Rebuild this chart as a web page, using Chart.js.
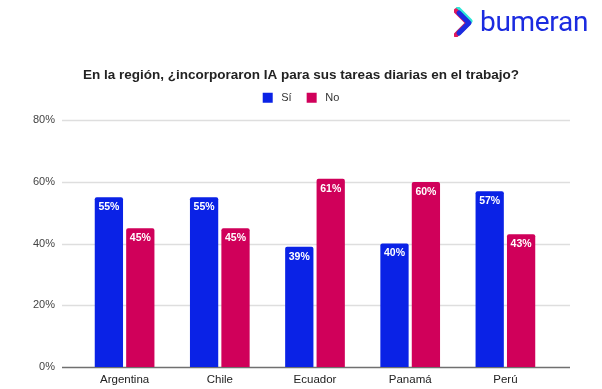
<!DOCTYPE html>
<html>
<head>
<meta charset="utf-8">
<script src="https://cdn.jsdelivr.net/npm/chart.js@4"></script>
<style>
  html, body { margin: 0; padding: 0; background: #fff; }
  #wrap { position: relative; width: 602px; height: 389px; }
  #logo { position: absolute; left: 454px; top: 5px; height: 34px; display: flex; align-items: center; }
  #logo span { font-family: Roboto, "Open Sans", sans-serif; font-size: 28px; color: #1b2be0; letter-spacing: -0.3px; margin-left: 6px; line-height: 1; }
</style>
</head>
<body>
<div id="wrap">
  <canvas id="chart" width="602" height="389"></canvas>
  <div id="logo">
    <svg width="20" height="30" viewBox="0 0 20 30">
      <polyline points="3,3 15,15 3,27" fill="none" stroke="#2ee6d6" stroke-width="5" stroke-linejoin="round" stroke-linecap="round" transform="translate(1,-1)"/>
      <polyline points="3,3 15,15 3,27" fill="none" stroke="#e0195f" stroke-width="5" stroke-linejoin="round" stroke-linecap="round" transform="translate(-1,1)"/>
      <polyline points="5,6 15,16 5,26" fill="none" stroke="#1b2be0" stroke-width="5" stroke-linejoin="round" stroke-linecap="round"/>
    </svg>
    <span>bumeran</span>
  </div>
</div>
<script>
  // datos
  const paises = ["Argentina", "Chile", "Ecuador", "Panamá", "Perú"];
  const si = [55, 55, 39, 40, 57];
  const no = [45, 45, 61, 60, 43];
  const yTicks = [0, 20, 40, 60, 80];

  const AZUL = "#0a22e6";
  const ROSA = "#d0005a";
  const FUENTE = "'Liberation Sans', Arial, sans-serif";

  // grilla horizontal que sobresale del area de barras
  const gridPlugin = {
    id: "gridExt",
    beforeDatasetsDraw(chart) {
      const { ctx, scales } = chart;
      const y = scales.y;
      ctx.save();
      yTicks.forEach((v) => {
        const py = Math.round(y.getPixelForValue(v)) + 0.5;
        ctx.beginPath();
        ctx.moveTo(62, py);
        ctx.lineTo(570, py);
        ctx.lineWidth = 1.5;
        ctx.strokeStyle = v === 0 ? "#707070" : "#dedede";
        ctx.stroke();
      });
      ctx.restore();
    },
  };

  // espacio extra bajo la leyenda
  const legendGap = {
    id: "legendGap",
    beforeInit(chart) {
      const fit = chart.legend.fit;
      chart.legend.fit = function () {
        fit.call(this);
        this.height += 7;
      };
    },
  };

  // etiquetas de valor dentro de la barra
  const labelPlugin = {
    id: "valLabels",
    afterDatasetsDraw(chart) {
      const { ctx } = chart;
      ctx.save();
      ctx.font = "bold 10.5px " + FUENTE;
      ctx.fillStyle = "#fff";
      ctx.textAlign = "center";
      ctx.textBaseline = "middle";
      chart.data.datasets.forEach((ds, i) => {
        chart.getDatasetMeta(i).data.forEach((bar, j) => {
          ctx.fillText(ds.data[j] + "%", bar.x, bar.y + 10);
        });
      });
      ctx.restore();
    },
  };

  new Chart(document.getElementById("chart"), {
    type: "bar",
    data: {
      labels: paises,
      datasets: [
        { label: "Sí", data: si, backgroundColor: AZUL, borderRadius: 2, borderSkipped: "bottom" },
        { label: "No", data: no, backgroundColor: ROSA, borderRadius: 2, borderSkipped: "bottom" },
      ],
    },
    options: {
      responsive: false,
      animation: false,
      categoryPercentage: 0.66,
      barPercentage: 0.9,
      layout: { padding: { top: 60, right: 0, bottom: 0, left: 0 } },
      plugins: {
        tooltip: { enabled: false },
        title: {
          display: true,
          text: "En la región, ¿incorporaron IA para sus tareas diarias en el trabajo?",
          color: "#222",
          font: { family: FUENTE, size: 13.5, weight: "bold" },
          padding: { top: 7, bottom: -6 },
        },
        legend: {
          position: "top",
          labels: {
            boxWidth: 10,
            boxHeight: 10,
            padding: 15,
            color: "#333",
            font: { family: FUENTE, size: 11 },
            generateLabels(chart) {
              const items = Chart.defaults.plugins.legend.labels.generateLabels(chart);
              items.forEach((it) => (it.text = " " + it.text));
              return items;
            },
          },
        },
      },
      scales: {
        x: {
          grid: { display: false },
          border: { display: false },
          afterFit(scale) {
            scale.height = 22;
          },
          ticks: {
            color: "#222",
            padding: -2,
            font: { family: FUENTE, size: 11.5 },
          },
        },
        y: {
          min: 0,
          max: 80,
          afterBuildTicks(scale) {
            scale.ticks = yTicks.map((v) => ({ value: v }));
          },
          afterFit(scale) {
            scale.width = 77;
          },
          grid: { display: false },
          border: { display: false },
          ticks: {
            color: "#444",
            padding: 14,
            callback: (v) => v + "%",
            font: { family: FUENTE, size: 11 },
          },
        },
        margen: {
          position: "right",
          afterFit(scale) {
            scale.width = 49;
          },
          grid: { display: false },
          border: { display: false },
          ticks: { display: false },
        },
      },
    },
    plugins: [gridPlugin, legendGap, labelPlugin],
  });
</script>
</body>
</html>
